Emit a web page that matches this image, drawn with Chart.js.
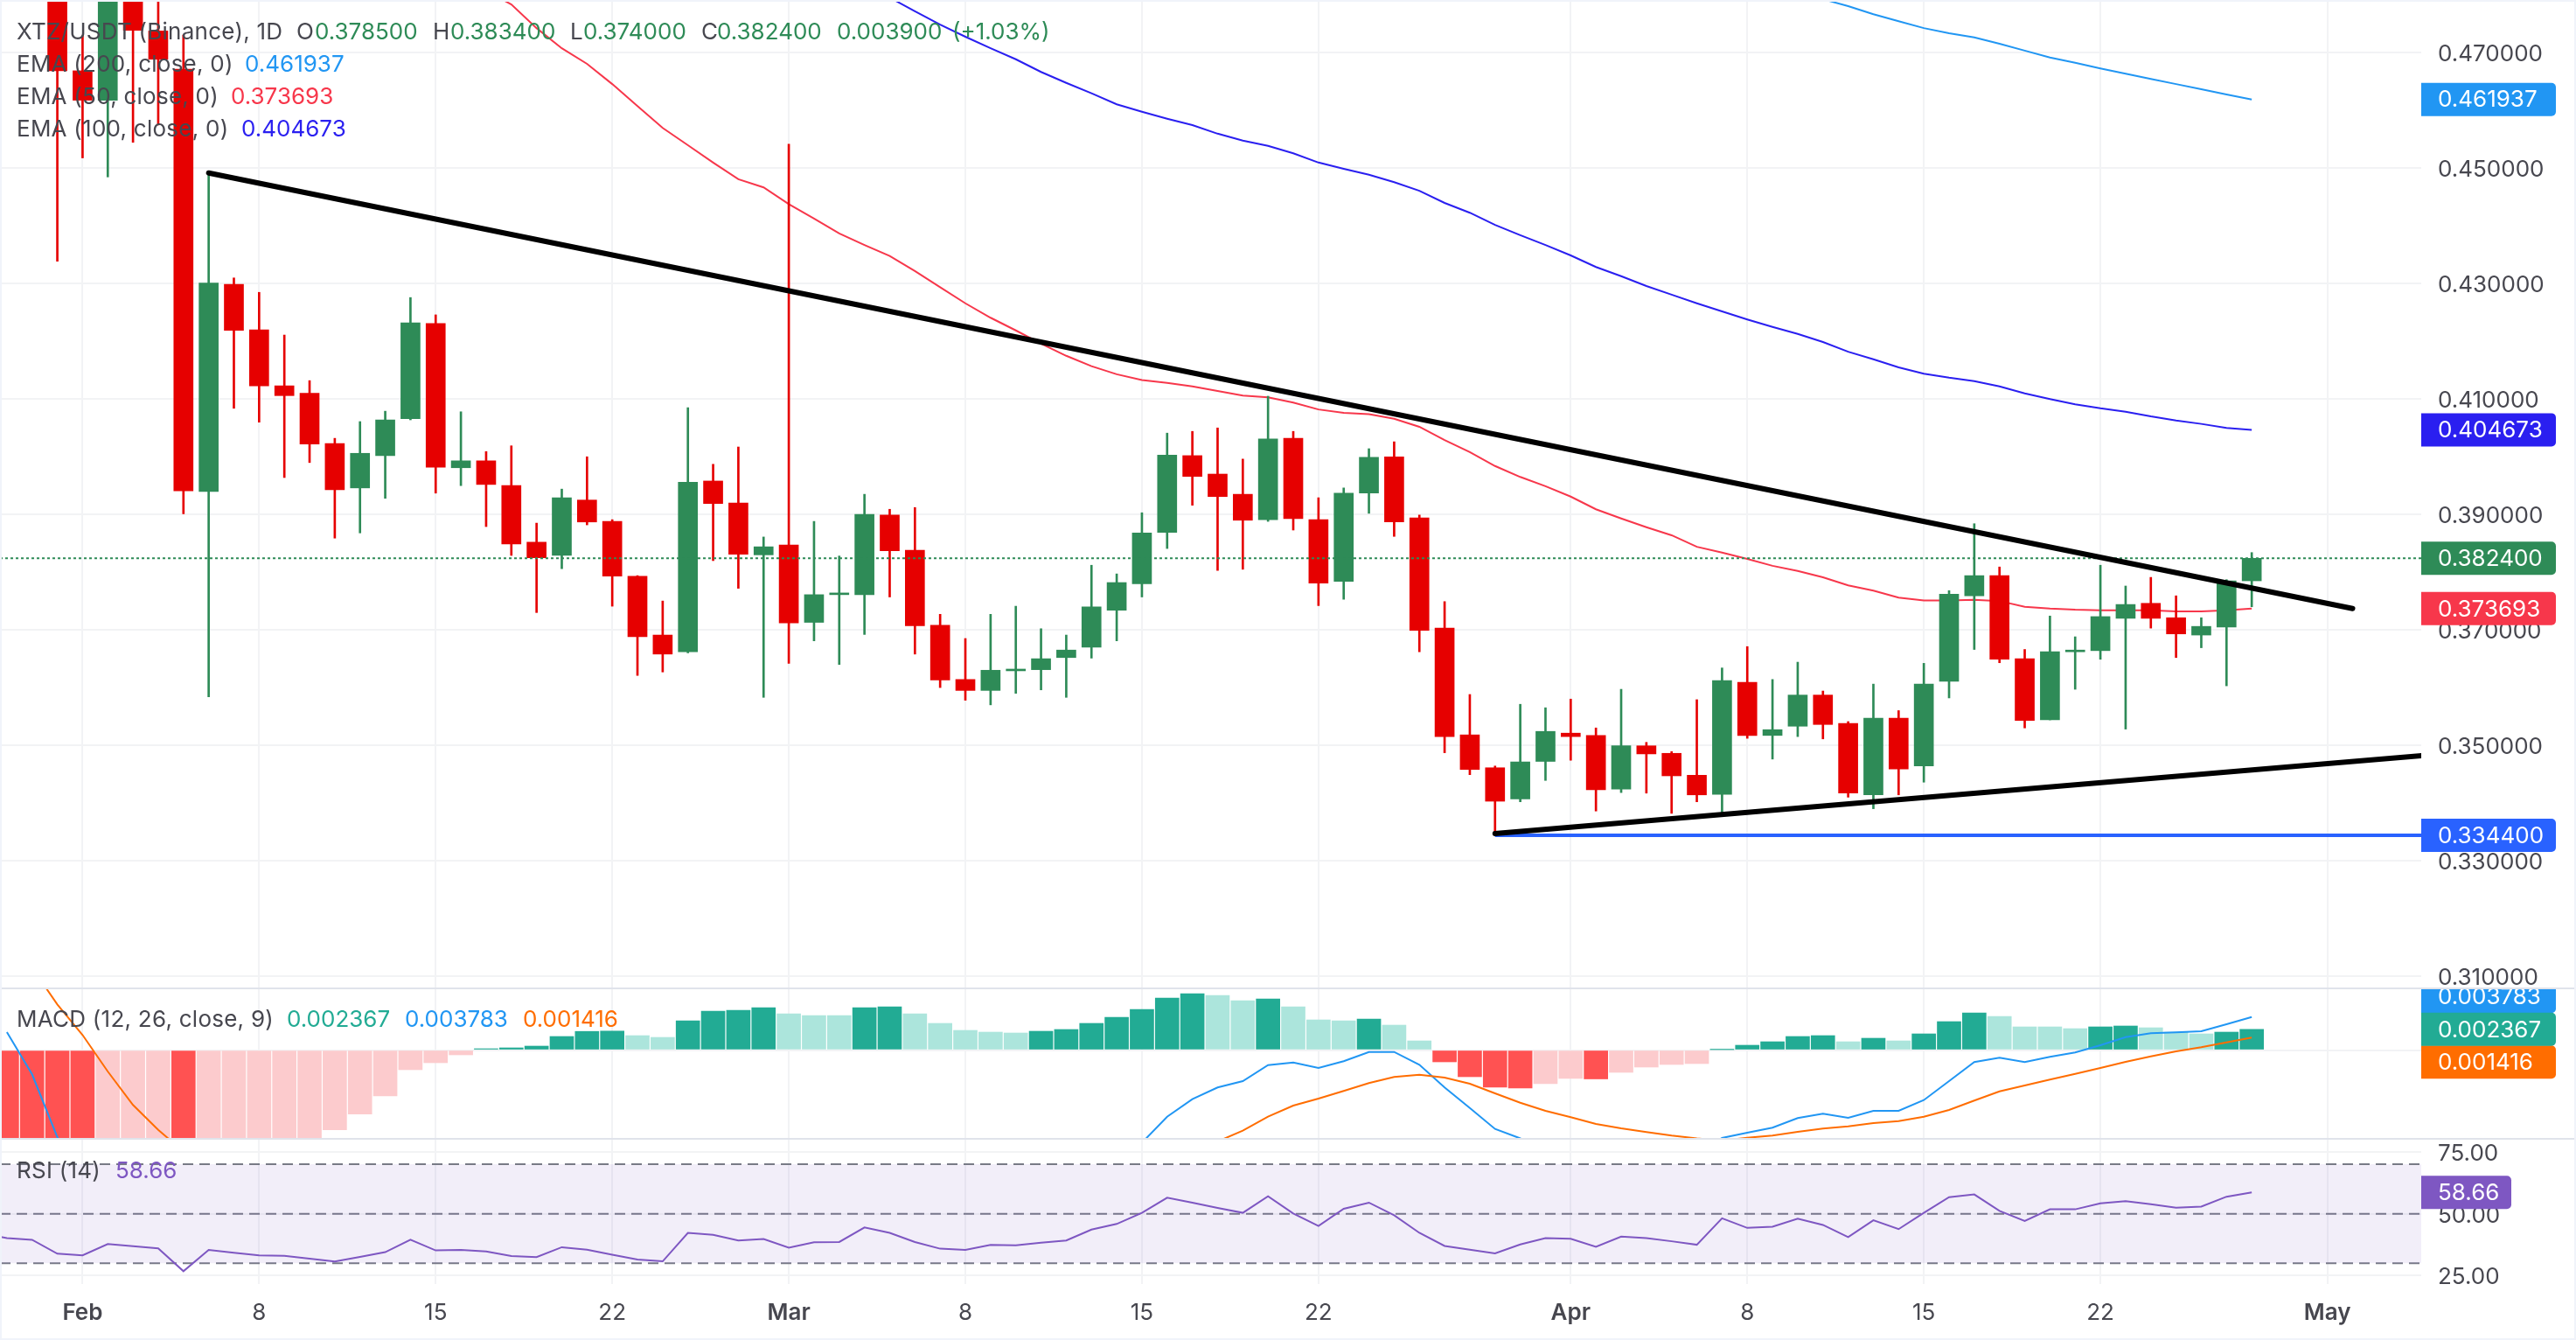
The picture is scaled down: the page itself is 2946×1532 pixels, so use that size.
<!DOCTYPE html>
<html><head><meta charset="utf-8">
<style>
html,body{margin:0;padding:0;background:#fff;width:2946px;height:1532px;overflow:hidden}
canvas{position:absolute;left:0}
.sep{position:absolute;left:0;width:2946px;height:2px;background:#e0e3eb;z-index:3}
#frame{position:absolute;left:0;top:0;width:2942px;height:1528px;border:2px solid #f0f3fa;z-index:4;pointer-events:none}
.lg{position:absolute;font:26px Inter,sans-serif;white-space:pre;transform:translateY(-50%);z-index:5;color:#4a4a52;line-height:32px}
</style></head><body>
<canvas id="main" width="2946" height="1130" style="top:0"></canvas>
<canvas id="macd" width="2946" height="172" style="top:1130px"></canvas>
<canvas id="rsi" width="2946" height="230" style="top:1302px"></canvas>
<div class="sep" style="top:1129px"></div><div class="sep" style="top:1301px"></div><div id="frame"></div>
<script src="https://cdn.jsdelivr.net/npm/chart.js@4"></script>
<script>
// Day numbers: 0 = 1 Feb. Candles run from day -1 to day 86 (28 Apr).
const firstCandleDay = -1;
const open = [.482,.4669,.4618,.486,.4738,.4672,.3940,.4299,.4220,.4123,.4110,.4023,.3946,.4002,.4066,.4231,.3981,.3993,.3950,.3852,.3829,.3925,.3888,.3793,.3691,.3662,
 .3958,.3920,.3830,.3847,.3713,.3761,.3761,.3899,.3838,.3708,.3614,.3595,.3629,.3631,.3652,.3670,.3734,.3780,.3869,.4002,.3970,.3935,.3891,.4032,.3891,.3784,.3937,.4000,.3894,.3703,.3518,.3461,.3407,.3472,
 .3521,.3517,.3424,.3499,.3486,.3448,.3415,.3609,.3517,.3533,.3587,.3538,.3414,.3547,.3464,.3611,.3759,.3794,.3650,.3544,.3662,.3664,.3720,.3746,.3721,.3691,.3705,.3785];
const high = [.486,.473,.486,.49,.482,.4731,.4495,.4310,.4285,.4211,.4132,.4032,.4061,.4079,.4276,.4246,.4078,.4009,.4019,.3885,.3944,.4000,.3891,.3794,.3750,.4085,
 .3987,.4017,.3861,.4542,.3888,.3828,.3935,.3909,.3912,.3727,.3685,.3727,.3741,.3702,.3691,.3812,.3797,.3903,.4041,.4044,.4050,.3996,.4105,.4044,.3929,.3946,.4014,.4026,.3899,.3749,.3588,.3464,.3571,.3565,
 .3580,.3530,.3597,.3505,.3489,.3579,.3634,.3671,.3614,.3644,.3594,.3541,.3606,.3560,.3642,.3768,.3884,.3809,.3666,.3724,.3688,.3812,.3776,.3791,.3759,.3721,.3787,.3834];
const low = [.4339,.4518,.4485,.4545,.4575,.3901,.3584,.4084,.4060,.3964,.3990,.3859,.3868,.3928,.4064,.3937,.3950,.3879,.3829,.3730,.3806,.3882,.3741,.3621,.3627,.3660,
 .3820,.3772,.3583,.3642,.3681,.3640,.3692,.3757,.3658,.3600,.3578,.3570,.3590,.3596,.3583,.3651,.3681,.3757,.3841,.3916,.3803,.3805,.3888,.3873,.3742,.3753,.3902,.3862,.3662,.3487,.3449,.3344,.3402,.3439,
 .3474,.3386,.3418,.3417,.3382,.3402,.3383,.3512,.3476,.3515,.3511,.3410,.3390,.3414,.3436,.3582,.3666,.3643,.3530,.3544,.3597,.3649,.3528,.3703,.3652,.3669,.3603,.3740];
const close = [.4669,.4618,.482,.4739,.4689,.3941,.4301,.4219,.4123,.4106,.4022,.3943,.4006,.4064,.4232,.3982,.3993,.3952,.3849,.3825,.3929,.3887,.3793,.3688,.3658,.3956,
 .3919,.3831,.3844,.3712,.3761,.3764,.3900,.3837,.3707,.3613,.3595,.3630,.3632,.3650,.3665,.3740,.3782,.3868,.4003,.3966,.3931,.3890,.4031,.3893,.3781,.3937,.3999,.3887,.3699,.3515,.3458,.3403,.3471,.3524,
 .3515,.3423,.3499,.3485,.3447,.3414,.3612,.3517,.3527,.3587,.3536,.3417,.3547,.3459,.3606,.3762,.3794,.3649,.3543,.3662,.3665,.3723,.3744,.3720,.3693,.3706,.3785,.3824];

const ema50Start = 16;
const ema50 = [.4808,.4784,.4743,.4708,.4681,.4646,.4608,.4570,.4540,.4510,.4481,.4467,.4438,.4413,.4387,.4367,.4348,.4322,.4294,.4266,.4241,.4219,.4196,.4175,.4157,.4143,.4133,.4128,.4122,.4114,.4106,.4103,.4094,.4082,.4076,.4074,.4066,.4052,.4029,.4008,.3984,.3965,.3949,.3931,.3909,.3893,.3878,.3864,.3844,.3834,.3823,.3811,.3802,.3791,.3777,.3768,.3756,.3751,.3751,.3752,.3750,.3740,.3737,.3735,.3734,.3734,.3734,.3732,.3732,.3734,.373693];
const ema100Start = 32;
const ema100 = [.4796,.4772,.4749,.4728,.4708,.4689,.4667,.4648,.4630,.4611,.4598,.4586,.4575,.4560,.4548,.4539,.4526,.4510,.4499,.4489,.4476,.4461,.4440,.4423,.4402,.4384,.4367,.4349,.4329,.4313,.4296,.4281,.4266,.4252,.4238,.4225,.4213,.4199,.4182,.4169,.4155,.4144,.4137,.4131,.4122,.4110,.4100,.4091,.4084,.4078,.4070,.4063,.4057,.4050,.404673];
const ema200Start = 69;
const ema200 = [.4793,.4781,.4767,.4755,.4743,.4734,.4727,.4716,.4704,.4692,.4683,.4673,.4664,.4655,.4646,.4637,.4628,.461937];

const lastPrice = .3824;
const supportLevel = .3344;
const supportDays = [56, 93];
const fallingDays = [5, 90];
const fallingPrices = [.4492, .3737];
const risingDays = [56, 93];
const risingPrices = [.3347, .3483];

const histStart = -3;
const macdHist = [-.017,-.0172,-.0174,-.0176,-.0168,-.0162,-.0155,-.016,-.0155,-.0145,-.013,-.0118,-.0102,-.00912,-.00732,-.00525,-.00225,-.00145,-.00055,.00015,.00025,.00045,.00155,.00213,.00217,.00165,.00145,.00335,.00445,.00455,.00485,.00415,.00395,.00395,.00485,
 .00495,.00415,.00305,.00225,.00205,.00195,.00215,.00235,.00305,.00375,.00465,.00595,.00645,.00625,.00565,.00585,.00495,.00345,.00335,.00355,.00285,.00105,-.00135,-.00305,-.00425,-.00435,-.00385,-.00325,-.0033,-.00255,-.00195,-.00165,-.00155,.00005,.00055,
 .00095,.00155,.00165,.00095,.00135,.00105,.00185,.00325,.00425,.00385,.00265,.00265,.00245,.00265,.00275,.00255,.00205,.00185,.00205,.002367];
const macdLineHead = [.00205,-.00278,-.00995,-.015]; // days -3..0
const macdLineStart = 41;
const macdLine = [-.0135,-.0106,-.00762,-.00562,-.00428,-.00355,-.00172,-.00142,-.00205,-.00128,-.00022,-.00022,-.00168,-.00428,-.00662,-.00902,-.0101,-.012,-.0135,-.0145,-.015,-.0148,-.014,-.012,-.01005,-.00945,-.00888,-.00778,-.00728,-.00775,-.00695,-.00695,-.00572,-.00355,-.00138,-.00088,-.00138,-.00078,-.00028,.00055,.00148,.00192,.00202,.00215,.00295,.003783];
const signalHead = [.0094,.00522,.00172,-.00245,-.00628,-.00912,-.0116]; // days -2..4
const signalStart = 44;
const signalLine = [-.0125,-.01045,-.00922,-.00762,-.00635,-.00555,-.00468,-.00378,-.00308,-.00282,-.00315,-.00385,-.00495,-.00602,-.00695,-.00768,-.00845,-.00895,-.00938,-.00978,-.0101,-.01035,-.01002,-.00978,-.00935,-.00898,-.00872,-.00835,-.00812,-.00762,-.00685,-.00578,-.00472,-.00405,-.00338,-.00272,-.00205,-.00135,-.00072,-.00015,.00032,.00088,.001416];

const rsiStart = -4;
const rsiValues = [42.1,40.2,39.5,33.9,33.2,37.8,36.9,36.0,26.8,35.4,34.3,33.2,33.0,31.9,30.7,32.6,34.5,39.5,35.2,35.4,34.8,32.9,32.5,36.5,35.5,33.5,31.5,30.8,42.3,41.5,39.2,39.8,36.3,38.5,38.6,44.5,
 42.3,38.6,35.9,35.4,37.4,37.3,38.3,39.2,43.6,45.9,50.4,56.5,54.5,52.4,50.4,57.1,50.1,45.1,52,54.5,49.4,42.3,37,35.5,34,37.6,40.2,39.9,36.7,40.8,40.2,38.9,37.5,48.2,44.3,44.8,48,45.5,40.6,47.4,43.8,50.4,56.7,57.8,51.2,47.1,51.8,51.8,54.2,55.1,53.9,52.5,52.9,56.9,58.66];
const rsiLevels = [70, 50, 30];

const tickDays = [0,7,14,21,28,35,42,49,59,66,73,80,89];
const tickLabels = ['Feb','8','15','22','Mar','8','15','22','Apr','8','15','22','May'];
const monthTicks = ['Feb','Mar','Apr','May'];
const priceTicks = [.31,.33,.35,.37,.39,.41,.43,.45,.47];
const macdTicks = [0];
const rsiTicks = [25,50,75];

// Scale windows of the three panes
const xMin = -3.273, xMax = 92.72;
const priceMin = .30786, priceMax = .47917;
const macdMin = -.01015, macdMax = .00705;
const rsiMin = 21.63, rsiMax = 80.28;

const GREEN='#2e8b57', RED='#e60000', GRID='#f2f3f5', TXT='#47474f';
const FONT='Inter, sans-serif';
const AXW=177;

function series(start, vals){ return vals.map((y,i)=>({x:start+i,y})); }
function xScale(showLabels){
  return {type:'linear',min:xMin,max:xMax,offset:false,
    afterBuildTicks(a){a.ticks=tickDays.map(v=>({value:v}));},
    afterFit(a){a.paddingLeft=0;a.paddingRight=0;a.height=showLabels?64:0;},
    border:{display:false},
    grid:{color:GRID,lineWidth:2,drawTicks:false,offset:false},
    ticks:{display:showLabels,autoSkip:false,maxRotation:0,minRotation:0,padding:18,color:TXT,
      callback:(v)=>tickLabels[tickDays.indexOf(v)],
      font:(c)=>({family:FONT,size:26,weight:c.tick&&monthTicks.includes(tickLabels[tickDays.indexOf(c.tick.value)])?'600':'400'})}};
}
function yScale(min,max,vals,digits,show){
  return {type:'linear',position:'right',min,max,
    afterBuildTicks(a){a.ticks=vals.map(v=>({value:v}));},
    afterFit(a){a.width=AXW;a.paddingTop=0;a.paddingBottom=0;},
    border:{display:false},
    grid:{color:GRID,lineWidth:2,drawTicks:false},
    ticks:{display:show,padding:19,color:TXT,autoSkip:false,callback:(v)=>v.toFixed(digits),font:{family:FONT,size:26}}};
}
function boxes(list){
  return {id:'boxes',
  afterLayout(ch){
    const s=ch.scales.y;
    if(s.options.ticks.display) s.getLabelItems().forEach(it=>{it.options.translation[1]+=2;});
  },
  afterDraw(ch){
    const c=ch.ctx,y=ch.scales.y,L=ch.chartArea.right;
    list.forEach(b=>{
      const cy=y.getPixelForValue(b.anchor!==undefined?b.anchor:b.value)+(b.shift||0);
      c.save();c.fillStyle=b.color;c.beginPath();
      c.roundRect(L,cy-19,b.width||154,38,[0,5,5,0]);c.fill();
      c.fillStyle='#fff';c.font='26px '+FONT;c.textBaseline='middle';c.textAlign='left';
      c.fillText(b.value.toFixed(b.digits||6),L+19,cy+1);c.restore();
    });
  }};
}
function line(data,color,width,order,extra){
  return Object.assign({type:'line',data,borderColor:color,borderWidth:width,pointRadius:0,tension:0,order,fill:false,spanGaps:false},extra||{});
}
const base={responsive:false,devicePixelRatio:1,animation:false,layout:{padding:0},
  events:[],plugins:{legend:{display:false},tooltip:{enabled:false},title:{display:false}}};

const idx=open.map((_,i)=>firstCandleDay+i);
const candleColor=idx.map((_,i)=>close[i]>=open[i]?GREEN:RED);

new Chart(document.getElementById('main'),{type:'bar',
  data:{datasets:[
    line(series(ema200Start,ema200),'#2196f3',2,6),
    line(series(ema100Start,ema100),'#2a1ff0',2,6),
    line(series(ema50Start,ema50),'#f7374b',2,6),
    {type:'bar',grouped:false,barThickness:2,order:5,data:idx.map((x,i)=>({x,y:[low[i],high[i]]})),backgroundColor:candleColor,borderWidth:0,borderSkipped:false},
    {type:'bar',grouped:false,barThickness:22,order:4,data:idx.map((x,i)=>({x,y:[open[i],close[i]]})),backgroundColor:candleColor,borderWidth:0,borderSkipped:false},
    line([{x:xMin,y:lastPrice},{x:xMax,y:lastPrice}],GREEN,2,3,{borderDash:[3,3]}),
    line(supportDays.map(x=>({x,y:supportLevel})),'#2962ff',4,2),
    line(fallingDays.map((x,i)=>({x,y:fallingPrices[i]})),'#000',6,1,{borderCapStyle:'round'}),
    line(risingDays.map((x,i)=>({x,y:risingPrices[i]})),'#000',6,1,{borderCapStyle:'round'})
  ]},
  options:Object.assign({},base,{scales:{x:xScale(false),y:yScale(priceMin,priceMax,priceTicks,6,true)}}),
  plugins:[boxes([
    {value:.461937,color:'#2196f3'},{value:.404673,color:'#2a1ff0'},
    {value:supportLevel,color:'#2962ff'},{value:.373693,color:'#f7374b'},{value:lastPrice,color:GREEN}
  ])]
});

const histColor=macdHist.map((h,i)=>{
  const p=i?macdHist[i-1]:h-1;
  if(h>=0) return h>p?'#22ab94':'#ace5dc';
  return (h<p||i===0)?'#ff5252':'#fccbcd';
});
new Chart(document.getElementById('macd'),{type:'bar',
  data:{datasets:[
    {type:'bar',grouped:false,barThickness:27,order:3,data:macdHist.map((y,i)=>({x:histStart+i,y})),backgroundColor:histColor,borderWidth:0},
    line(series(macdLineStart,macdLine),'#2196f3',2,2),
    line(series(-3,macdLineHead),'#2196f3',2,2),
    line(series(signalStart,signalLine),'#ff6d00',2,1),
    line(series(-2,signalHead),'#ff6d00',2,1)
  ]},
  options:Object.assign({},base,{scales:{x:xScale(false),y:yScale(macdMin,macdMax,macdTicks,6,false)}}),
  plugins:[boxes([
    {value:.003783,color:'#2196f3',anchor:.002367,shift:-37.5},
    {value:.001416,color:'#ff6d00',anchor:.002367,shift:37.5},
    {value:.002367,color:'#22ab94'}
  ])]
});

new Chart(document.getElementById('rsi'),{type:'line',
  data:{datasets:[
    line([{x:xMin,y:rsiLevels[0]},{x:xMax,y:rsiLevels[0]}],'#787b86',2,3,{borderDash:[12,7],fill:'+2',backgroundColor:'rgba(126,87,194,0.1)'}),
    line([{x:xMin,y:rsiLevels[1]},{x:xMax,y:rsiLevels[1]}],'#787b86',2,3,{borderDash:[12,7]}),
    line([{x:xMin,y:rsiLevels[2]},{x:xMax,y:rsiLevels[2]}],'#787b86',2,3,{borderDash:[12,7]}),
    line(series(rsiStart,rsiValues),'#7e57c2',2,1)
  ]},
  options:Object.assign({},base,{scales:{x:xScale(true),y:yScale(rsiMin,rsiMax,rsiTicks,2,true)}}),
  plugins:[boxes([{value:58.66,color:'#7e57c2',digits:2,width:103}])]
});

const G=GREEN, D=TXT;
const legendItems=[
 ['XTZ/USDT (Binance), 1D',19,36,D],['O',339,36,D],['0.378500',360,36,G],['H',495,36,D],['0.383400',515,36,G],['L',652,36,D],['0.374000',667,36,G],['C',802,36,D],['0.382400',820,36,G],['0.003900',957,36,G],['(+1.03%)',1089,36,G],
 ['EMA (200, close, 0)',19,73,D],['0.461937',280,73,'#2196f3'],
 ['EMA (50, close, 0)',19,110,D],['0.373693',264,110,'#f7374b'],
 ['EMA (100, close, 0)',19,147,D],['0.404673',276,147,'#2a1ff0'],
 ['MACD (12, 26, close, 9)',19,1165,D],['0.002367',328,1165,'#22ab94'],['0.003783',463,1165,'#2196f3'],['0.001416',598,1165,'#ff6d00'],
 ['RSI (14)',19,1338,D],['58.66',132,1338,'#7e57c2']
];
legendItems.forEach(([t,x,y,c])=>{
  const s=document.createElement('span');s.className='lg';s.textContent=t;
  s.style.left=x+'px';s.style.top=y+'px';s.style.color=c;
  if(c===D&&t.length>1) s.style.letterSpacing='0.25px';
  document.body.appendChild(s);
});
</script></body></html>
